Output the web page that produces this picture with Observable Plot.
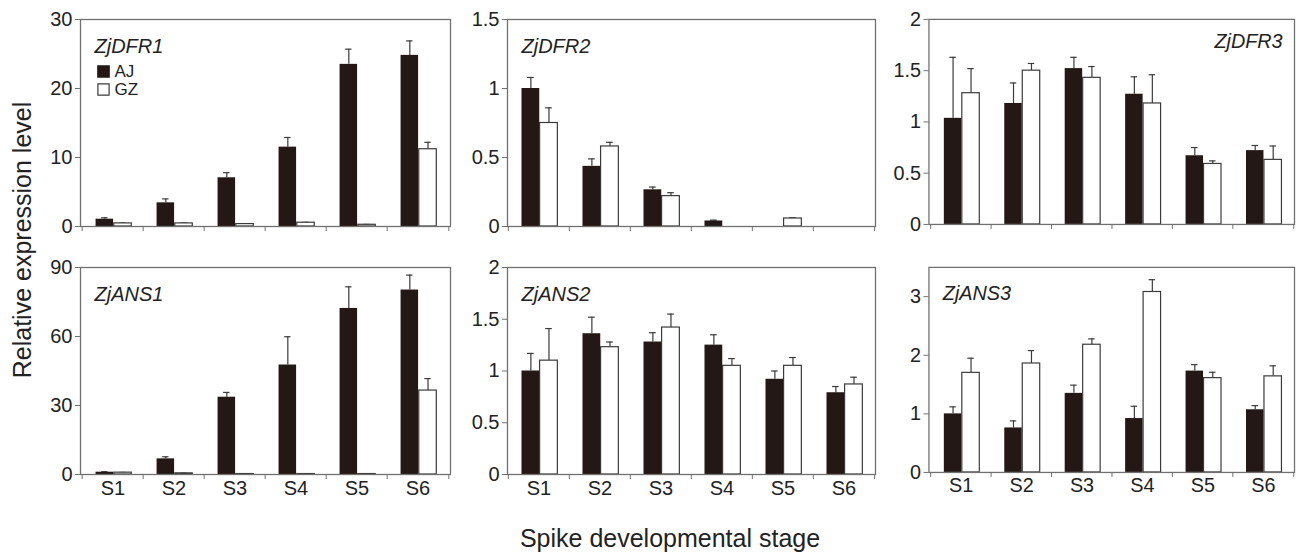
<!DOCTYPE html>
<html><head><meta charset="utf-8">
<script src="https://cdn.jsdelivr.net/npm/d3@7"></script>
<script src="https://cdn.jsdelivr.net/npm/@observablehq/plot@0.6"></script>
<style>
body{margin:0;background:#fff;font-family:"Liberation Sans",Arial,sans-serif;color:#222;}
#wrap{position:relative;width:1296px;height:554px;overflow:hidden;background:#fff;}
.panel{position:absolute;}
.ytitle{position:absolute;left:22px;top:240px;transform:translate(-50%,-50%) rotate(-90deg);font-size:25px;white-space:nowrap;}
.xtitle{position:absolute;left:670px;top:538px;transform:translate(-50%,-50%);font-size:25px;white-space:nowrap;}
</style></head><body><div id="wrap">
<div class="ytitle">Relative expression level</div>
<div class="xtitle">Spike developmental stage</div>
</div>
<script>
const stages = ["S1","S2","S3","S4","S5","S6"];
const seriesNames = ["AJ","GZ"];
const genes = ["ZjDFR1","ZjDFR2","ZjDFR3","ZjANS1","ZjANS2","ZjANS3"];

// ZjDFR1
const dfr1AJ = [1.06, 3.43, 7.06, 11.5, 23.5, 24.8];
const dfr1AJsd = [0.2, 0.57, 0.74, 1.4, 2.2, 2.1];
const dfr1GZ = [0.45, 0.45, 0.35, 0.55, 0.25, 11.2];
const dfr1GZsd = [0.05, 0.05, 0.05, 0.05, 0.05, 1.0];
// ZjDFR2
const dfr2AJ = [1.0, 0.436, 0.266, 0.04, 0, 0];
const dfr2AJsd = [0.08, 0.054, 0.02, 0.006, 0, 0];
const dfr2GZ = [0.75, 0.58, 0.22, 0, 0.058, 0];
const dfr2GZsd = [0.11, 0.03, 0.025, 0, 0.005, 0];
// ZjDFR3
const dfr3AJ = [1.035, 1.18, 1.52, 1.27, 0.67, 0.72];
const dfr3AJsd = [0.595, 0.2, 0.11, 0.17, 0.08, 0.05];
const dfr3GZ = [1.28, 1.50, 1.43, 1.18, 0.59, 0.63];
const dfr3GZsd = [0.24, 0.07, 0.11, 0.28, 0.03, 0.135];
// ZjANS1
const ans1AJ = [1.0, 6.8, 33.6, 47.6, 72.2, 80.2];
const ans1AJsd = [0.2, 0.9, 2.1, 12.3, 9.4, 6.5];
const ans1GZ = [0.8, 0.5, 0.2, 0.2, 0.2, 36.5];
const ans1GZsd = [0.1, 0.1, 0, 0, 0, 5.2];
// ZjANS2
const ans2AJ = [1.0, 1.36, 1.28, 1.25, 0.92, 0.79];
const ans2AJsd = [0.17, 0.16, 0.09, 0.10, 0.08, 0.06];
const ans2GZ = [1.10, 1.23, 1.42, 1.05, 1.05, 0.87];
const ans2GZsd = [0.31, 0.05, 0.13, 0.07, 0.08, 0.07];
// ZjANS3
const ans3AJ = [1.0, 0.76, 1.35, 0.92, 1.73, 1.07];
const ans3AJsd = [0.12, 0.12, 0.14, 0.21, 0.11, 0.07];
const ans3GZ = [1.70, 1.86, 2.18, 3.08, 1.61, 1.64];
const ans3GZsd = [0.25, 0.22, 0.10, 0.21, 0.10, 0.18];

// y-axis domains and tick values
const yDomains = [[0,30],[0,1.5],[0,2],[0,90],[0,2],[0,3.5]];
const yTicks = [[0,10,20,30],[0,0.5,1,1.5],[0,0.5,1,1.5,2],[0,30,60,90],[0,0.5,1,1.5,2],[0,1,2,3]];

const BAR = "#231815", EDGE = "#3a3a3a", FRAME = "#707070", TXT = "#222";

function panel(cfg) {
  const {gene, aj, ajSd, gz, gzSd, domain, ticks, left, top, W, H, showX, titleRight, legend} = cfg;
  const mL = 60, mR = 2, mT = 12, mB = showX ? 34 : 10;
  const bw = W / 6;
  const start = 0.22, bwFrac = 0.295;
  const rows = stages.flatMap((s, i) => [
    {stage: s, series: "AJ", value: aj[i], sd: ajSd[i]},
    {stage: s, series: "GZ", value: gz[i], sd: gzSd[i]}
  ]);
  const A = rows.filter(d => d.series === "AJ" && d.value > 0);
  const G = rows.filter(d => d.series === "GZ" && d.value > 0);
  const ajIns = {insetLeft: start * bw, insetRight: bw - (start + bwFrac) * bw};
  const gzIns = {insetLeft: (start + bwFrac) * bw, insetRight: bw - (start + 2 * bwFrac) * bw};
  const ajDx = (start + bwFrac / 2 - 0.5) * bw;
  const gzDx = (start + 1.5 * bwFrac - 0.5) * bw;
  const cap = 7;
  const capIns = {insetLeft: (bw - cap) / 2, insetRight: (bw - cap) / 2};
  const errMarks = (D, dx) => [
    Plot.ruleX(D.filter(d => d.sd > 0), {x: "stage", y1: "value", y2: d => d.value + d.sd, dx, stroke: EDGE, strokeWidth: 1.2}),
    Plot.tickY(D.filter(d => d.sd > 0), {x: "stage", y: d => d.value + d.sd, dx, ...capIns, stroke: EDGE, strokeWidth: 1.2})
  ];
  const marks = [
    ...errMarks(A, ajDx),
    ...errMarks(G, gzDx),
    Plot.barY(A, {x: "stage", y: "value", fill: BAR, ...ajIns}),
    Plot.barY(G, {x: "stage", y: "value", fill: "#fff", stroke: EDGE, strokeWidth: 1.2, ...gzIns}),
    Plot.frame({stroke: FRAME, strokeWidth: 1.3}),
    Plot.axisY({ticks, tickSize: 5, tickPadding: 3, stroke: FRAME, fontSize: 20, tickFormat: d => String(d)}),
    Plot.ruleX(stages, {x: d => d, dx: -bw / 2, insetTop: H, insetBottom: -5, stroke: FRAME}),
    Plot.ruleX(["S6"], {x: d => d, dx: bw / 2, insetTop: H, insetBottom: -5, stroke: FRAME}),
    Plot.text([gene], titleRight
      ? {frameAnchor: "top-right", dx: -12, dy: 22, textAnchor: "end", lineAnchor: "middle", fontStyle: "italic", fontSize: 20, fill: TXT}
      : {frameAnchor: "top-left", dx: 14, dy: 27, textAnchor: "start", lineAnchor: "middle", fontStyle: "italic", fontSize: 20, fill: TXT})
  ];
  if (showX) marks.push(Plot.axisX({tickSize: 0, tickPadding: 6, fontSize: 20}));
  else marks.push(Plot.axisX({ticks: [], label: null}));
  if (legend) {
    marks.push(
      Plot.dot(["AJ"], {frameAnchor: "top-left", dx: 23, dy: 52, symbol: "square", r: 6.3, fill: BAR, stroke: BAR}),
      Plot.dot(["GZ"], {frameAnchor: "top-left", dx: 23, dy: 70, symbol: "square", r: 6.3, fill: "#fff", stroke: EDGE, strokeWidth: 1.2}),
      Plot.text(["AJ"], {frameAnchor: "top-left", dx: 34, dy: 52, textAnchor: "start", lineAnchor: "middle", fontSize: 17, fill: TXT}),
      Plot.text(["GZ"], {frameAnchor: "top-left", dx: 34, dy: 70, textAnchor: "start", lineAnchor: "middle", fontSize: 17, fill: TXT})
    );
  }
  const svg = Plot.plot({
    width: W + mL + mR, height: H + mT + mB,
    marginLeft: mL, marginRight: mR, marginTop: mT, marginBottom: mB,
    style: {fontFamily: "Liberation Sans, Arial, sans-serif", fontSize: "20px", color: TXT, background: "transparent", overflow: "visible"},
    x: {type: "band", domain: stages, paddingInner: 0, paddingOuter: 0, label: null},
    y: {domain, label: null},
    marks
  });
  const div = document.createElement("div");
  div.className = "panel";
  div.style.left = (left - mL) + "px";
  div.style.top = (top - mT) + "px";
  div.appendChild(svg);
  document.getElementById("wrap").appendChild(div);
}

const cols = [{left: 80, W: 370}, {left: 507, W: 368}, {left: 929, W: 369}];
const rowsTop = [19, 267];
const H = 207;
const vals = [
  [dfr1AJ, dfr1AJsd, dfr1GZ, dfr1GZsd],
  [dfr2AJ, dfr2AJsd, dfr2GZ, dfr2GZsd],
  [dfr3AJ, dfr3AJsd, dfr3GZ, dfr3GZsd],
  [ans1AJ, ans1AJsd, ans1GZ, ans1GZsd],
  [ans2AJ, ans2AJsd, ans2GZ, ans2GZsd],
  [ans3AJ, ans3AJsd, ans3GZ, ans3GZsd]
];
genes.forEach((g, k) => {
  const r = Math.floor(k / 3), c = k % 3;
  const [aj, ajSd, gz, gzSd] = vals[k];
  panel({gene: g, aj, ajSd, gz, gzSd, domain: yDomains[k], ticks: yTicks[k],
    left: cols[c].left, top: rowsTop[r], W: cols[c].W, H,
    showX: r === 1, titleRight: k === 2, legend: k === 0});
});
</script>
</body></html>
